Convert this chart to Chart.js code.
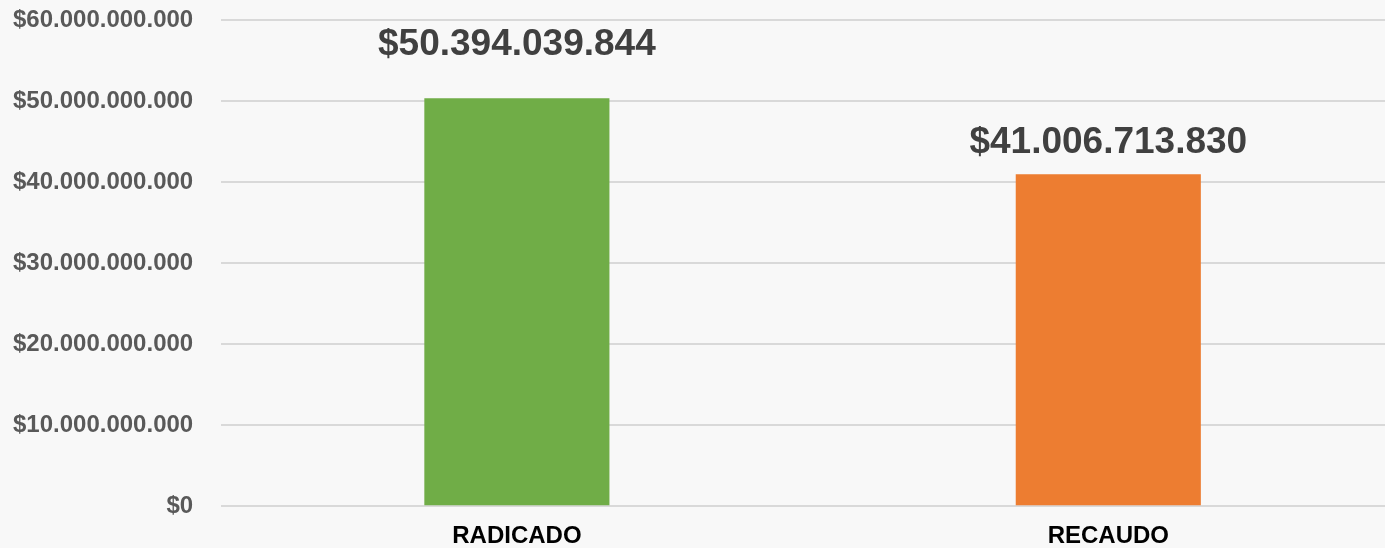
<!DOCTYPE html>
<html>
<head>
<meta charset="utf-8">
<script src="https://cdn.jsdelivr.net/npm/chart.js@4/dist/chart.umd.min.js"></script>
<style>
  html, body { margin: 0; padding: 0; overflow: hidden; background: #f8f8f8; width: 1385px; height: 548px; }
  #wrap { position: absolute; left: 0; top: -22px; width: 1405px; height: 575px; }
</style>
</head>
<body>
<div id="wrap"><canvas id="c"></canvas></div>
<script>
const categories = ['RADICADO', 'RECAUDO'];
const values = [50394039844, 41006713830];
const barColors = ['#70AD47', '#ED7D31'];
const yTickStep = 10000000000;
const yMax = 60000000000;

function fmt(v) {
  const s = Math.round(v).toString();
  return '$' + s.replace(/\B(?=(\d{3})+(?!\d))/g, '.');
}

const labelPlugin = {
  id: 'valueLabels',
  afterDatasetsDraw(chart, args, opts) {
    const ctx = chart.ctx;
    const meta = chart.getDatasetMeta(0);
    ctx.save();
    ctx.font = 'bold 37px "Liberation Sans", Arial, sans-serif';
    ctx.fillStyle = '#404040';
    ctx.textAlign = 'center';
    ctx.textBaseline = 'alphabetic';
    meta.data.forEach((bar, i) => {
      ctx.fillText(fmt(values[i]), bar.x, bar.y - opts.gaps[i]);
    });
    ctx.restore();
  }
};

new Chart(document.getElementById('c'), {
  type: 'bar',
  data: {
    labels: categories,
    datasets: [{
      data: values,
      backgroundColor: barColors,
      borderWidth: 0,
      barPercentage: 0.313,
      categoryPercentage: 1
    }]
  },
  options: {
    responsive: true,
    maintainAspectRatio: false,
    animation: false,
    layout: { padding: { left: -15, right: 1, top: 0, bottom: -14 } },
    plugins: {
      legend: { display: false },
      tooltip: { enabled: false },
      valueLabels: { gaps: [43, 21] }
    },
    scales: {
      x: {
        grid: { display: false, drawTicks: false },
        border: { display: false },
        ticks: {
          color: '#000000',
          font: { family: '"Liberation Sans", Arial, sans-serif', size: 24, weight: 'bold' },
          padding: 16
        }
      },
      y: {
        min: 0,
        max: yMax,
        grid: { color: '#D9D9D9', lineWidth: 2, drawTicks: false },
        border: { display: false },
        ticks: {
          stepSize: yTickStep,
          color: '#595959',
          padding: 28,
          font: { family: '"Liberation Sans", Arial, sans-serif', size: 24, weight: 'bold' },
          callback: (v) => fmt(v)
        }
      }
    }
  },
  plugins: [labelPlugin]
});
</script>
</body>
</html>
